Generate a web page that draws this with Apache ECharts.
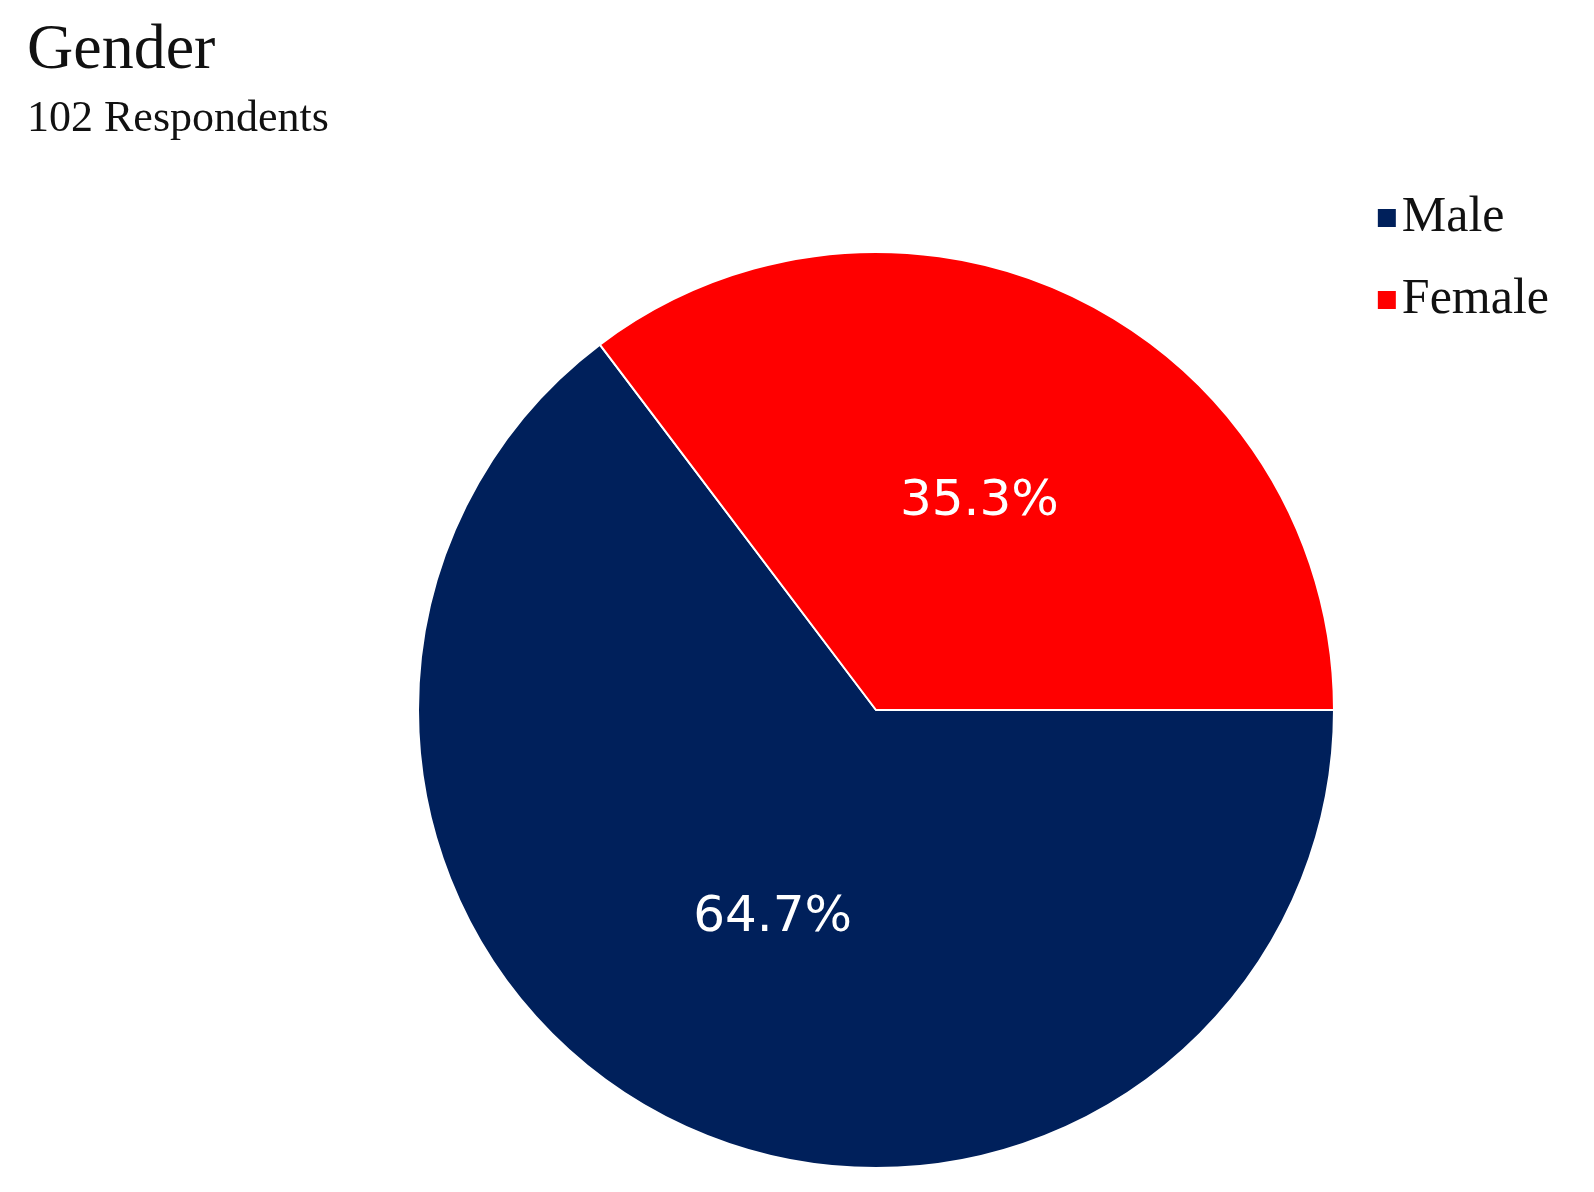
<!DOCTYPE html>
<html>
<head>
<meta charset="utf-8">
<script src="https://cdn.jsdelivr.net/npm/echarts@6/dist/echarts.min.js"></script>
<style>html,body{margin:0;background:#fff}#main{width:1594px;height:1192px}</style>
</head>
<body>
<div id="main"></div>
<script>
var categories = ['Male', 'Female'];
var values = [64.7, 35.3];
var colors = ['#00205b', '#ff0000'];

var chart = echarts.init(document.getElementById('main'));
chart.setOption({
    animation: false,
    title: {
        text: 'Gender',
        subtext: '102 Respondents',
        left: 22, top: 14,
        itemGap: 14,
        textStyle: {fontFamily: 'Liberation Serif', fontSize: 64, fontWeight: 'normal', color: '#111'},
        subtextStyle: {fontFamily: 'Liberation Serif', fontSize: 44, color: '#111'}
    },
    legend: {
        orient: 'vertical',
        right: 40, top: 188,
        itemWidth: 20, itemHeight: 20,
        itemGap: 32,
        icon: 'rect',
        textStyle: {fontFamily: 'Liberation Serif', fontSize: 50, color: '#111'},
        data: categories
    },
    series: [{
        type: 'pie',
        center: [876, 710],
        radius: 458,
        startAngle: 0,
        clockwise: true,
        itemStyle: {borderColor: '#fff', borderWidth: 2},
        label: {
            position: 'inside',
            formatter: function (p) { return p.value.toFixed(1) + '%'; },
            color: '#fff',
            fontFamily: 'DejaVu Sans',
            fontSize: 50
        },
        data: categories.map(function (c, i) {
            return {name: c, value: values[i], itemStyle: {color: colors[i]}};
        })
    }]
});
</script>
</body>
</html>
